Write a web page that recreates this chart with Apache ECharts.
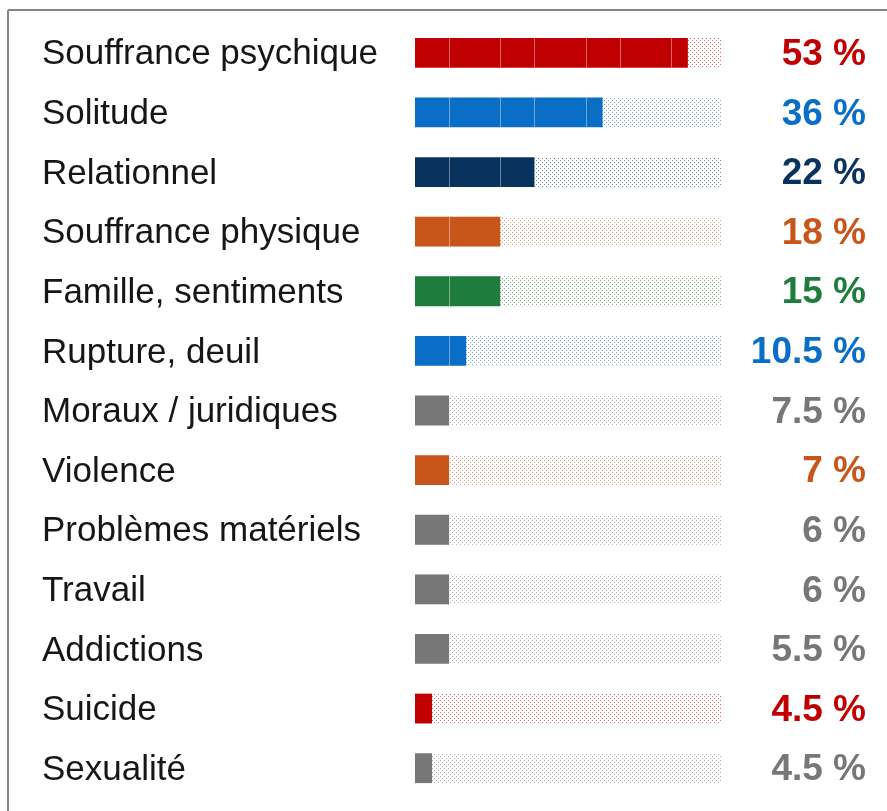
<!DOCTYPE html>
<html>
<head>
<meta charset="utf-8">
<script src="https://cdn.jsdelivr.net/npm/echarts@6/dist/echarts.min.js"></script>
<style>
  html, body { margin: 0; padding: 0; background: #fff; }
  #box { width: 887px; height: 811px; }
</style>
</head>
<body>
<div id="box"></div>
<script>
// catégories, de haut en bas
var categories = ['Souffrance psychique', 'Solitude', 'Relationnel', 'Souffrance physique',
  'Famille, sentiments', 'Rupture, deuil', 'Moraux / juridiques', 'Violence',
  'Problèmes matériels', 'Travail', 'Addictions', 'Suicide', 'Sexualité'];
// valeurs affichées (%)
var percents = [53, 36, 22, 18, 15, 10.5, 7.5, 7, 6, 6, 5.5, 4.5, 4.5];
// longueur des barres, en blocs (échelle pleine = 18 blocs)
var barBlocks = [16, 11, 7, 5, 5, 3, 2, 2, 2, 2, 2, 1, 1];
var maxBlocks = 18;
// limites des segments (traits clairs dans les barres)
var segmentEdges = [2, 5, 7, 10, 12, 15];
var colorKeys = ['red', 'blue', 'navy', 'orange', 'green', 'blue', 'gray', 'orange', 'gray', 'gray', 'gray', 'red', 'gray'];

var palette = {
  red: '#c00000',
  blue: '#0a6ec6',
  navy: '#08335f',
  orange: '#c8561a',
  green: '#1e7d3c',
  gray: '#777777'
};

// motif pointillé pour le fond des barres
function makeDots(color) {
  var c = document.createElement('canvas');
  c.width = 4; c.height = 4;
  var ctx = c.getContext('2d');
  ctx.globalAlpha = 0.6;
  ctx.fillStyle = color;
  ctx.fillRect(0, 0, 1, 1);
  ctx.fillRect(2, 2, 1, 1);
  return c;
}
var patterns = {};
Object.keys(palette).forEach(function (k) {
  patterns[k] = { image: makeDots(palette[k]), repeat: 'repeat' };
});

var myChart = echarts.init(document.getElementById('box'));

var option = {
  animation: false,
  graphic: [
    { type: 'line', shape: { x1: 8, y1: 10, x2: 887, y2: 10 }, style: { stroke: '#858585', lineWidth: 2 } },
    { type: 'line', shape: { x1: 8, y1: 10, x2: 8, y2: 811 }, style: { stroke: '#858585', lineWidth: 2 } }
  ],
  grid: { left: 415, right: 165, top: 23, bottom: 13 },
  xAxis: {
    type: 'value', min: 0, max: maxBlocks, show: false
  },
  yAxis: {
    type: 'category',
    data: categories,
    inverse: true,
    axisLine: { show: false },
    axisTick: { show: false },
    axisLabel: {
      align: 'left',
      margin: 373,
      formatter: '{a|{value}}',
      rich: {
        a: {
          padding: [4, 0, 0, 0],
          fontFamily: 'Liberation Sans, Arial, sans-serif',
          fontSize: 35,
          color: '#161616'
        }
      }
    }
  },
  series: [{
    type: 'custom',
    data: barBlocks.map(function (b, i) { return [b, i]; }),
    encode: { x: 0, y: 1 },
    renderItem: function (params, api) {
      var b = api.value(0), i = api.value(1);
      var start = api.coord([0, i]);
      var end = api.coord([b, i]);
      var full = api.coord([maxBlocks, i]);
      var barH = api.size([0, 1])[1] * 0.5;
      var top = start[1] - barH / 2;
      var key = colorKeys[i];
      var children = [
        { type: 'rect', shape: { x: start[0], y: top, width: full[0] - start[0], height: barH },
          style: { fill: patterns[key] } },
        { type: 'rect', shape: { x: start[0], y: top, width: end[0] - start[0], height: barH },
          style: { fill: palette[key] } }
      ];
      segmentEdges.forEach(function (e) {
        if (e < b) {
          var x = Math.round(api.coord([e, i])[0]) + 0.5;
          children.push({ type: 'line', shape: { x1: x, y1: top, x2: x, y2: top + barH },
            style: { stroke: 'rgba(255,255,255,0.4)', lineWidth: 1 } });
        }
      });
      children.push({
        type: 'text',
        style: {
          x: full[0] + 144, y: start[1] + 2,
          text: percents[i] + ' %',
          align: 'right', verticalAlign: 'middle',
          fontFamily: 'Liberation Sans, Arial, sans-serif',
          fontWeight: 'bold', fontSize: 37,
          fill: palette[key]
        }
      });
      return { type: 'group', children: children };
    }
  }]
};

myChart.setOption(option);
</script>
</body>
</html>
